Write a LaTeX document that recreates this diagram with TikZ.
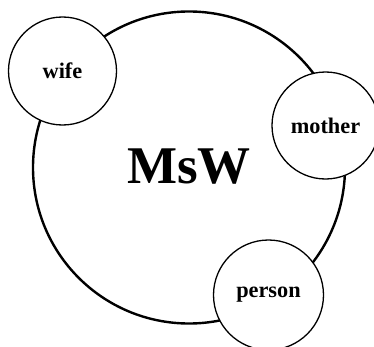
\documentclass[tikz,border=0pt]{standalone}
\usepackage{fontspec}
\setmainfont{Liberation Serif}
\begin{document}
\begin{tikzpicture}[x=1pt,y=1pt,
  whole/.style={circle,draw,line width=2.4pt,minimum size=312pt,inner sep=0pt},
  bigtext/.style={font=\bfseries\fontsize{53}{57}\selectfont},
  part/.style={circle,draw,fill=white,line width=1.3pt,inner sep=0pt,
    font=\bfseries\fontsize{22.3}{25}\selectfont}]
\useasboundingbox (0,0) rectangle (374,346);
% the whole
\node[whole] (msw) at (189,178.5) {};
\node[bigtext,anchor=base] (mswlabel) at (189,163) {MsW};
% the parts, drawn over its rim
\node[part,minimum size=108pt] (wife) at (62.5,275) {wife};
\node[part,minimum size=107pt] (mother) at (325.5,220.5) {mother};
\node[part,minimum size=110pt] (person) at (268.5,51) {person};
\end{tikzpicture}
\end{document}
